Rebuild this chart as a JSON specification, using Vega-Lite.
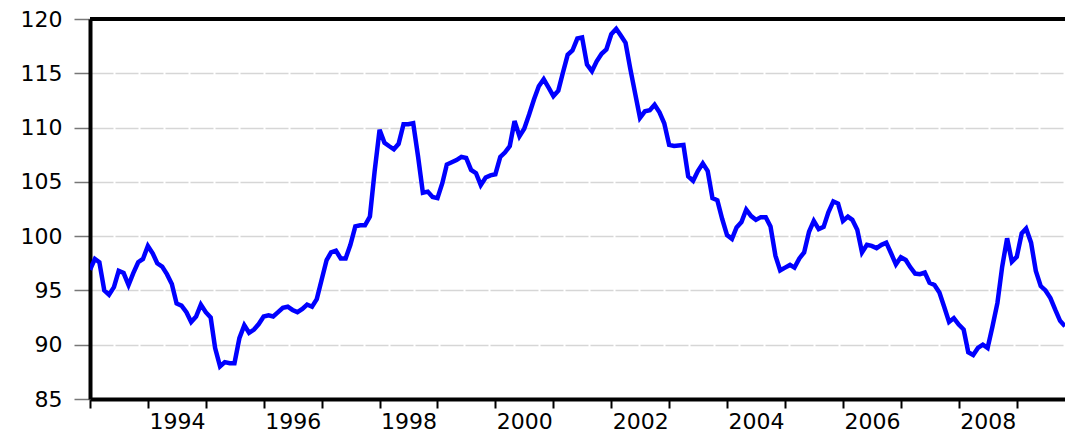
{
  "$schema": "https://vega.github.io/schema/vega-lite/v6.json",
  "width": 975,
  "height": 380,
  "autosize": {"type": "none"},
  "padding": {"left": 90, "top": 19, "right": 0, "bottom": 37},
  "background": "white",
  "config": {"view": {"stroke": null}, "font": "DejaVu Sans"},
  "layer": [
    {
      "data": {"values": [
        {"date": "1993-01-01", "value": 96.9}, {"date": "1993-02-01", "value": 97.9}, {"date": "1993-03-01", "value": 97.6}, {"date": "1993-04-01", "value": 95.0}, {"date": "1993-05-01", "value": 94.6}, {"date": "1993-06-01", "value": 95.3}, {"date": "1993-07-01", "value": 96.8}, {"date": "1993-08-01", "value": 96.6}, {"date": "1993-09-01", "value": 95.5}, {"date": "1993-10-01", "value": 96.6}, {"date": "1993-11-01", "value": 97.6}, {"date": "1993-12-01", "value": 97.9},
        {"date": "1994-01-01", "value": 99.1}, {"date": "1994-02-01", "value": 98.4}, {"date": "1994-03-01", "value": 97.5}, {"date": "1994-04-01", "value": 97.2}, {"date": "1994-05-01", "value": 96.5}, {"date": "1994-06-01", "value": 95.6}, {"date": "1994-07-01", "value": 93.8}, {"date": "1994-08-01", "value": 93.6}, {"date": "1994-09-01", "value": 93.0}, {"date": "1994-10-01", "value": 92.1}, {"date": "1994-11-01", "value": 92.6}, {"date": "1994-12-01", "value": 93.7},
        {"date": "1995-01-01", "value": 93.0}, {"date": "1995-02-01", "value": 92.5}, {"date": "1995-03-01", "value": 89.7}, {"date": "1995-04-01", "value": 88.0}, {"date": "1995-05-01", "value": 88.4}, {"date": "1995-06-01", "value": 88.3}, {"date": "1995-07-01", "value": 88.3}, {"date": "1995-08-01", "value": 90.6}, {"date": "1995-09-01", "value": 91.8}, {"date": "1995-10-01", "value": 91.1}, {"date": "1995-11-01", "value": 91.4}, {"date": "1995-12-01", "value": 91.9},
        {"date": "1996-01-01", "value": 92.6}, {"date": "1996-02-01", "value": 92.7}, {"date": "1996-03-01", "value": 92.6}, {"date": "1996-04-01", "value": 93.0}, {"date": "1996-05-01", "value": 93.4}, {"date": "1996-06-01", "value": 93.5}, {"date": "1996-07-01", "value": 93.2}, {"date": "1996-08-01", "value": 93.0}, {"date": "1996-09-01", "value": 93.3}, {"date": "1996-10-01", "value": 93.7}, {"date": "1996-11-01", "value": 93.5}, {"date": "1996-12-01", "value": 94.2},
        {"date": "1997-01-01", "value": 96.0}, {"date": "1997-02-01", "value": 97.8}, {"date": "1997-03-01", "value": 98.5}, {"date": "1997-04-01", "value": 98.65}, {"date": "1997-05-01", "value": 97.95}, {"date": "1997-06-01", "value": 97.95}, {"date": "1997-07-01", "value": 99.2}, {"date": "1997-08-01", "value": 100.9}, {"date": "1997-09-01", "value": 101.0}, {"date": "1997-10-01", "value": 101.0}, {"date": "1997-11-01", "value": 101.8}, {"date": "1997-12-01", "value": 106.0},
        {"date": "1998-01-01", "value": 109.8}, {"date": "1998-02-01", "value": 108.6}, {"date": "1998-03-01", "value": 108.3}, {"date": "1998-04-01", "value": 108.0}, {"date": "1998-05-01", "value": 108.5}, {"date": "1998-06-01", "value": 110.3}, {"date": "1998-07-01", "value": 110.3}, {"date": "1998-08-01", "value": 110.4}, {"date": "1998-09-01", "value": 107.3}, {"date": "1998-10-01", "value": 104.0}, {"date": "1998-11-01", "value": 104.1}, {"date": "1998-12-01", "value": 103.6},
        {"date": "1999-01-01", "value": 103.5}, {"date": "1999-02-01", "value": 104.9}, {"date": "1999-03-01", "value": 106.6}, {"date": "1999-04-01", "value": 106.8}, {"date": "1999-05-01", "value": 107.0}, {"date": "1999-06-01", "value": 107.3}, {"date": "1999-07-01", "value": 107.2}, {"date": "1999-08-01", "value": 106.1}, {"date": "1999-09-01", "value": 105.8}, {"date": "1999-10-01", "value": 104.7}, {"date": "1999-11-01", "value": 105.4}, {"date": "1999-12-01", "value": 105.6},
        {"date": "2000-01-01", "value": 105.7}, {"date": "2000-02-01", "value": 107.3}, {"date": "2000-03-01", "value": 107.7}, {"date": "2000-04-01", "value": 108.3}, {"date": "2000-05-01", "value": 110.6}, {"date": "2000-06-01", "value": 109.2}, {"date": "2000-07-01", "value": 109.9}, {"date": "2000-08-01", "value": 111.2}, {"date": "2000-09-01", "value": 112.6}, {"date": "2000-10-01", "value": 113.8}, {"date": "2000-11-01", "value": 114.45}, {"date": "2000-12-01", "value": 113.7},
        {"date": "2001-01-01", "value": 112.9}, {"date": "2001-02-01", "value": 113.4}, {"date": "2001-03-01", "value": 115.0}, {"date": "2001-04-01", "value": 116.7}, {"date": "2001-05-01", "value": 117.1}, {"date": "2001-06-01", "value": 118.2}, {"date": "2001-07-01", "value": 118.3}, {"date": "2001-08-01", "value": 115.8}, {"date": "2001-09-01", "value": 115.2}, {"date": "2001-10-01", "value": 116.1}, {"date": "2001-11-01", "value": 116.8}, {"date": "2001-12-01", "value": 117.2},
        {"date": "2002-01-01", "value": 118.6}, {"date": "2002-02-01", "value": 119.1}, {"date": "2002-03-01", "value": 118.5}, {"date": "2002-04-01", "value": 117.8}, {"date": "2002-05-01", "value": 115.4}, {"date": "2002-06-01", "value": 113.1}, {"date": "2002-07-01", "value": 110.9}, {"date": "2002-08-01", "value": 111.5}, {"date": "2002-09-01", "value": 111.6}, {"date": "2002-10-01", "value": 112.1}, {"date": "2002-11-01", "value": 111.4}, {"date": "2002-12-01", "value": 110.4},
        {"date": "2003-01-01", "value": 108.4}, {"date": "2003-02-01", "value": 108.3}, {"date": "2003-03-01", "value": 108.35}, {"date": "2003-04-01", "value": 108.4}, {"date": "2003-05-01", "value": 105.5}, {"date": "2003-06-01", "value": 105.1}, {"date": "2003-07-01", "value": 106.0}, {"date": "2003-08-01", "value": 106.7}, {"date": "2003-09-01", "value": 106.0}, {"date": "2003-10-01", "value": 103.5}, {"date": "2003-11-01", "value": 103.3}, {"date": "2003-12-01", "value": 101.6},
        {"date": "2004-01-01", "value": 100.1}, {"date": "2004-02-01", "value": 99.75}, {"date": "2004-03-01", "value": 100.8}, {"date": "2004-04-01", "value": 101.3}, {"date": "2004-05-01", "value": 102.45}, {"date": "2004-06-01", "value": 101.85}, {"date": "2004-07-01", "value": 101.5}, {"date": "2004-08-01", "value": 101.75}, {"date": "2004-09-01", "value": 101.75}, {"date": "2004-10-01", "value": 100.9}, {"date": "2004-11-01", "value": 98.2}, {"date": "2004-12-01", "value": 96.85},
        {"date": "2005-01-01", "value": 97.1}, {"date": "2005-02-01", "value": 97.35}, {"date": "2005-03-01", "value": 97.1}, {"date": "2005-04-01", "value": 97.95}, {"date": "2005-05-01", "value": 98.5}, {"date": "2005-06-01", "value": 100.4}, {"date": "2005-07-01", "value": 101.4}, {"date": "2005-08-01", "value": 100.65}, {"date": "2005-09-01", "value": 100.85}, {"date": "2005-10-01", "value": 102.2}, {"date": "2005-11-01", "value": 103.2}, {"date": "2005-12-01", "value": 103.0},
        {"date": "2006-01-01", "value": 101.4}, {"date": "2006-02-01", "value": 101.8}, {"date": "2006-03-01", "value": 101.5}, {"date": "2006-04-01", "value": 100.6}, {"date": "2006-05-01", "value": 98.5}, {"date": "2006-06-01", "value": 99.2}, {"date": "2006-07-01", "value": 99.1}, {"date": "2006-08-01", "value": 98.9}, {"date": "2006-09-01", "value": 99.2}, {"date": "2006-10-01", "value": 99.4}, {"date": "2006-11-01", "value": 98.4}, {"date": "2006-12-01", "value": 97.4},
        {"date": "2007-01-01", "value": 98.05}, {"date": "2007-02-01", "value": 97.8}, {"date": "2007-03-01", "value": 97.15}, {"date": "2007-04-01", "value": 96.55}, {"date": "2007-05-01", "value": 96.5}, {"date": "2007-06-01", "value": 96.65}, {"date": "2007-07-01", "value": 95.7}, {"date": "2007-08-01", "value": 95.5}, {"date": "2007-09-01", "value": 94.8}, {"date": "2007-10-01", "value": 93.5}, {"date": "2007-11-01", "value": 92.1}, {"date": "2007-12-01", "value": 92.45},
        {"date": "2008-01-01", "value": 91.85}, {"date": "2008-02-01", "value": 91.4}, {"date": "2008-03-01", "value": 89.3}, {"date": "2008-04-01", "value": 89.05}, {"date": "2008-05-01", "value": 89.7}, {"date": "2008-06-01", "value": 90.0}, {"date": "2008-07-01", "value": 89.7}, {"date": "2008-08-01", "value": 91.7}, {"date": "2008-09-01", "value": 93.85}, {"date": "2008-10-01", "value": 97.2}, {"date": "2008-11-01", "value": 99.8}, {"date": "2008-12-01", "value": 97.65},
        {"date": "2009-01-01", "value": 98.1}, {"date": "2009-02-01", "value": 100.25}, {"date": "2009-03-01", "value": 100.7}, {"date": "2009-04-01", "value": 99.4}, {"date": "2009-05-01", "value": 96.8}, {"date": "2009-06-01", "value": 95.4}, {"date": "2009-07-01", "value": 95.0}, {"date": "2009-08-01", "value": 94.3}, {"date": "2009-09-01", "value": 93.2}, {"date": "2009-10-01", "value": 92.2}, {"date": "2009-11-01", "value": 91.7}
      ]},
      "mark": {"type": "line", "color": "#0000ff", "strokeWidth": 4.5, "clip": true},
      "encoding": {
        "x": {
          "field": "date",
          "type": "temporal",
          "scale": {"type": "utc", "domain": [{"year": 1993, "month": 1, "date": 1, "utc": true}, {"year": 2009, "month": 11, "date": 1, "utc": true}]},
          "axis": {
            "title": null,
            "grid": false,
            "values": [
              {"year": 1993, "month": 1, "date": 1, "utc": true}, {"year": 1994, "month": 1, "date": 1, "utc": true}, {"year": 1995, "month": 1, "date": 1, "utc": true}, {"year": 1996, "month": 1, "date": 1, "utc": true}, {"year": 1997, "month": 1, "date": 1, "utc": true}, {"year": 1998, "month": 1, "date": 1, "utc": true}, {"year": 1999, "month": 1, "date": 1, "utc": true}, {"year": 2000, "month": 1, "date": 1, "utc": true}, {"year": 2001, "month": 1, "date": 1, "utc": true}, {"year": 2002, "month": 1, "date": 1, "utc": true}, {"year": 2003, "month": 1, "date": 1, "utc": true}, {"year": 2004, "month": 1, "date": 1, "utc": true}, {"year": 2005, "month": 1, "date": 1, "utc": true}, {"year": 2006, "month": 1, "date": 1, "utc": true}, {"year": 2007, "month": 1, "date": 1, "utc": true}, {"year": 2008, "month": 1, "date": 1, "utc": true}, {"year": 2009, "month": 1, "date": 1, "utc": true}
            ],
            "labelExpr": "utcyear(datum.value) % 2 == 0 ? utcFormat(datum.value, '%Y') : ''",
            "labelOffset": 29,
            "labelOverlap": false,
            "labelFlush": false,
            "labelBound": false,
            "labelFont": "DejaVu Sans",
            "labelFontSize": 22,
            "labelColor": "black",
            "labelPadding": 3,
            "tickSize": 9,
            "tickWidth": 2,
            "tickColor": "black",
            "domainColor": "black",
            "domainWidth": 4
          }
        },
        "y": {
          "field": "value",
          "type": "quantitative",
          "scale": {"domain": [85, 120], "zero": false, "nice": false},
          "axis": {
            "title": null,
            "values": [85, 90, 95, 100, 105, 110, 115, 120],
            "grid": true,
            "gridDash": [23, 2],
            "gridColor": "#d6d6d6",
            "gridWidth": 1.5,
            "domainColor": "black",
            "domainWidth": 4,
            "tickColor": "#777777",
            "tickSize": 16,
            "tickWidth": 1.5,
            "labelFont": "DejaVu Sans",
            "labelFontSize": 22,
            "labelColor": "black",
            "labelPadding": 12
          }
        }
      }
    },
    {
      "data": {"values": [{}]},
      "mark": {"type": "rule", "color": "black", "strokeWidth": 4},
      "encoding": {"y": {"datum": 120}}
    }
  ]
}
